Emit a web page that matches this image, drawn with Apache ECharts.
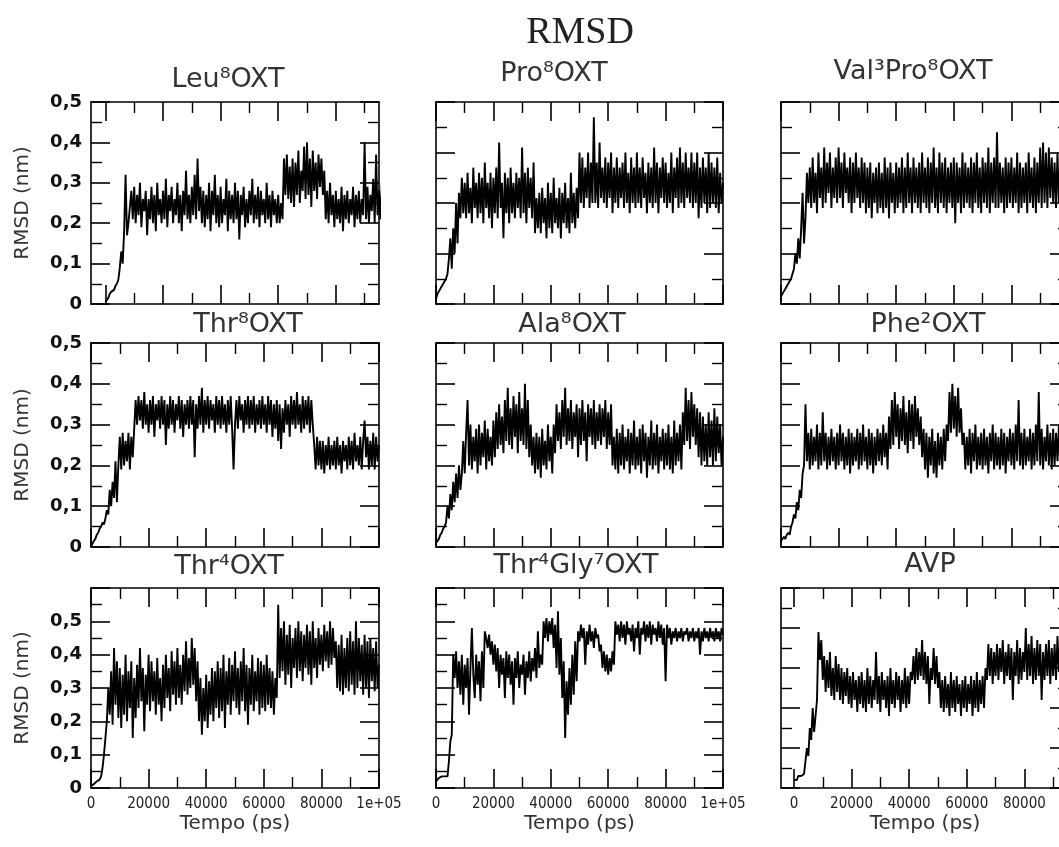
<!DOCTYPE html>
<html><head><meta charset="utf-8">
<script src="https://cdn.jsdelivr.net/npm/echarts@6/dist/echarts.min.js"></script>
<style>html,body{margin:0;padding:0;background:#fff}#c{width:1059px;height:847px}</style>
</head><body><div id="c"></div>
<script>
// sampling step of the trajectories (ps)
const DT = 500;

const mainTitle = 'RMSD';
const titles = ['Leu⁸OXT', 'Pro⁸OXT', 'Val³Pro⁸OXT', 'Thr⁸OXT', 'Ala⁸OXT', 'Phe²OXT', 'Thr⁴OXT', 'Thr⁴Gly⁷OXT', 'AVP'];
const yName = 'RMSD (nm)';
const xName = 'Tempo (ps)';
const xMajorTicks = [0, 20000, 40000, 60000, 80000, 100000];
const xMinorTicks = [10000, 30000, 50000, 70000, 90000];

const leu8 = [
0.005,0.008,0.015,0.025,0.03,0.03,0.035,0.045,0.05,0.06,
0.09,0.13,0.1,0.18,0.32,0.17,0.2,0.24,0.28,0.21,
0.29,0.2,0.27,0.22,0.3,0.19,0.26,0.23,0.28,0.17,
0.26,0.21,0.29,0.2,0.27,0.18,0.3,0.22,0.26,0.2,
0.28,0.21,0.31,0.19,0.27,0.23,0.29,0.2,0.26,0.22,
0.3,0.2,0.27,0.18,0.28,0.22,0.33,0.21,0.27,0.2,
0.29,0.22,0.32,0.21,0.36,0.23,0.29,0.2,0.28,0.19,
0.27,0.21,0.3,0.18,0.28,0.22,0.32,0.2,0.27,0.19,
0.29,0.2,0.26,0.22,0.31,0.18,0.28,0.21,0.27,0.2,
0.3,0.21,0.28,0.16,0.27,0.22,0.29,0.19,0.26,0.2,
0.28,0.22,0.31,0.2,0.27,0.21,0.29,0.19,0.28,0.22,
0.26,0.2,0.3,0.21,0.27,0.19,0.28,0.22,0.26,0.2,
0.27,0.2,0.25,0.21,0.36,0.27,0.37,0.26,0.34,0.25,
0.36,0.24,0.35,0.27,0.38,0.25,0.33,0.28,0.39,0.26,
0.4,0.27,0.36,0.24,0.38,0.28,0.35,0.26,0.37,0.29,
0.36,0.27,0.33,0.21,0.28,0.2,0.3,0.22,0.27,0.19,
0.28,0.21,0.26,0.2,0.29,0.18,0.27,0.21,0.28,0.2,
0.26,0.22,0.29,0.19,0.27,0.21,0.28,0.2,0.26,0.22,
0.4,0.21,0.29,0.2,0.27,0.23,0.31,0.2,0.37,0.22,
0.28,0.21,0.3,0.2,0.27,0.22,0.29,0.21,0.27,0.22,0.25];

const pro8 = [
0.01,0.02,0.022,0.03,0.035,0.04,0.045,0.05,0.06,0.09,
0.13,0.07,0.15,0.1,0.2,0.12,0.22,0.17,0.25,0.18,
0.24,0.17,0.26,0.18,0.23,0.16,0.27,0.19,0.24,0.17,
0.26,0.18,0.25,0.16,0.28,0.19,0.24,0.17,0.26,0.15,
0.25,0.18,0.27,0.17,0.32,0.19,0.24,0.13,0.26,0.18,
0.25,0.16,0.27,0.18,0.24,0.17,0.26,0.19,0.25,0.17,
0.31,0.18,0.26,0.16,0.27,0.19,0.25,0.17,0.28,0.14,
0.21,0.15,0.22,0.14,0.23,0.16,0.21,0.13,0.24,0.15,
0.22,0.14,0.25,0.16,0.21,0.15,0.23,0.13,0.22,0.16,
0.24,0.15,0.21,0.14,0.26,0.16,0.22,0.15,0.23,0.17,
0.3,0.2,0.29,0.19,0.27,0.21,0.3,0.19,0.28,0.2,
0.37,0.2,0.28,0.19,0.32,0.21,0.27,0.2,0.29,0.19,
0.28,0.21,0.3,0.18,0.27,0.2,0.29,0.19,0.27,0.21,
0.28,0.19,0.3,0.2,0.26,0.18,0.29,0.2,0.27,0.19,
0.3,0.2,0.27,0.19,0.29,0.21,0.26,0.18,0.28,0.2,
0.27,0.19,0.31,0.2,0.28,0.18,0.27,0.21,0.29,0.2,
0.28,0.19,0.26,0.2,0.3,0.18,0.27,0.21,0.29,0.19,
0.31,0.2,0.28,0.19,0.3,0.21,0.27,0.2,0.3,0.19,
0.28,0.2,0.3,0.17,0.27,0.19,0.29,0.2,0.27,0.18,
0.3,0.19,0.28,0.2,0.27,0.19,0.29,0.18,0.26,0.2,0.24];

const val3pro8 = [
0.015,0.02,0.025,0.03,0.035,0.04,0.045,0.05,0.06,0.07,
0.1,0.08,0.13,0.09,0.15,0.22,0.12,0.17,0.26,0.2,
0.27,0.19,0.29,0.2,0.26,0.18,0.3,0.21,0.27,0.19,
0.31,0.2,0.28,0.22,0.3,0.19,0.27,0.21,0.29,0.2,
0.31,0.21,0.28,0.19,0.3,0.22,0.27,0.2,0.29,0.18,
0.28,0.2,0.3,0.21,0.27,0.19,0.29,0.2,0.28,0.18,
0.27,0.19,0.28,0.17,0.26,0.2,0.27,0.18,0.28,0.19,
0.26,0.18,0.29,0.19,0.27,0.17,0.28,0.2,0.26,0.18,
0.28,0.19,0.27,0.2,0.29,0.18,0.27,0.19,0.3,0.2,
0.27,0.18,0.29,0.2,0.27,0.19,0.28,0.18,0.3,0.2,
0.27,0.19,0.29,0.18,0.28,0.2,0.31,0.19,0.27,0.18,
0.3,0.2,0.28,0.19,0.29,0.18,0.27,0.2,0.28,0.19,
0.29,0.16,0.28,0.2,0.27,0.18,0.3,0.19,0.28,0.2,
0.27,0.19,0.29,0.18,0.28,0.2,0.3,0.19,0.27,0.18,
0.29,0.2,0.28,0.19,0.31,0.18,0.28,0.2,0.29,0.19,
0.34,0.19,0.28,0.2,0.27,0.18,0.29,0.19,0.28,0.2,
0.29,0.19,0.27,0.2,0.3,0.18,0.28,0.19,0.27,0.2,
0.28,0.18,0.3,0.2,0.27,0.19,0.29,0.18,0.28,0.2,
0.31,0.19,0.32,0.2,0.3,0.19,0.31,0.21,0.29,0.2,
0.28,0.19,0.3,0.2,0.28,0.19,0.29,0.2,0.28,0.19,0.24];

const thr8 = [
0.0,0.008,0.015,0.02,0.03,0.035,0.045,0.05,0.06,0.055,
0.07,0.09,0.08,0.14,0.1,0.16,0.12,0.21,0.11,0.2,
0.27,0.19,0.28,0.2,0.26,0.21,0.28,0.19,0.27,0.22,
0.29,0.36,0.3,0.37,0.31,0.36,0.29,0.38,0.3,0.35,
0.28,0.36,0.3,0.37,0.27,0.35,0.31,0.36,0.29,0.37,
0.3,0.36,0.25,0.35,0.29,0.37,0.3,0.36,0.28,0.35,
0.31,0.37,0.29,0.36,0.27,0.35,0.3,0.36,0.29,0.37,
0.3,0.36,0.22,0.35,0.29,0.37,0.3,0.39,0.28,0.36,
0.3,0.37,0.29,0.36,0.31,0.35,0.28,0.37,0.3,0.36,
0.29,0.37,0.3,0.35,0.28,0.36,0.3,0.37,0.29,0.19,
0.3,0.36,0.29,0.37,0.31,0.35,0.28,0.36,0.3,0.37,
0.29,0.36,0.3,0.37,0.28,0.35,0.3,0.36,0.29,0.37,
0.3,0.35,0.28,0.37,0.3,0.36,0.27,0.35,0.29,0.36,
0.26,0.35,0.24,0.34,0.28,0.36,0.3,0.35,0.27,0.37,
0.3,0.36,0.29,0.38,0.3,0.35,0.28,0.37,0.29,0.36,
0.3,0.37,0.28,0.36,0.3,0.25,0.19,0.27,0.2,0.26,
0.19,0.26,0.18,0.25,0.2,0.27,0.19,0.25,0.2,0.26,
0.19,0.27,0.2,0.25,0.18,0.26,0.21,0.25,0.19,0.27,
0.2,0.26,0.19,0.28,0.21,0.25,0.2,0.27,0.19,0.26,
0.31,0.22,0.27,0.19,0.26,0.2,0.28,0.19,0.27,0.21,0.25];

const ala8 = [
0.01,0.015,0.02,0.03,0.035,0.045,0.05,0.06,0.1,0.07,
0.13,0.09,0.16,0.11,0.18,0.12,0.2,0.14,0.18,0.26,
0.18,0.28,0.36,0.2,0.3,0.19,0.27,0.21,0.29,0.18,
0.3,0.2,0.28,0.22,0.31,0.19,0.29,0.21,0.27,0.2,
0.31,0.22,0.33,0.24,0.35,0.25,0.32,0.23,0.36,0.26,
0.39,0.25,0.34,0.24,0.37,0.27,0.35,0.23,0.38,0.26,
0.34,0.25,0.4,0.24,0.36,0.22,0.3,0.2,0.27,0.18,
0.28,0.19,0.27,0.17,0.29,0.2,0.26,0.19,0.3,0.21,
0.27,0.18,0.3,0.23,0.35,0.26,0.33,0.24,0.36,0.27,
0.39,0.25,0.34,0.26,0.36,0.24,0.33,0.27,0.35,0.22,
0.34,0.25,0.36,0.26,0.33,0.21,0.35,0.27,0.34,0.25,
0.36,0.24,0.33,0.26,0.35,0.25,0.34,0.27,0.36,0.24,
0.33,0.25,0.35,0.2,0.27,0.19,0.29,0.18,0.28,0.2,
0.3,0.19,0.27,0.21,0.29,0.18,0.28,0.2,0.31,0.19,
0.27,0.2,0.29,0.18,0.3,0.21,0.28,0.17,0.27,0.2,
0.31,0.19,0.28,0.2,0.3,0.18,0.27,0.21,0.29,0.19,
0.28,0.2,0.3,0.19,0.27,0.18,0.31,0.2,0.28,0.21,
0.3,0.19,0.33,0.25,0.39,0.26,0.36,0.24,0.38,0.27,
0.35,0.25,0.34,0.22,0.33,0.2,0.32,0.21,0.3,0.2,
0.33,0.22,0.31,0.2,0.34,0.21,0.32,0.23,0.3,0.2,0.27];

const phe2 = [
0.015,0.02,0.025,0.02,0.03,0.035,0.03,0.05,0.06,0.08,
0.07,0.11,0.09,0.14,0.12,0.18,0.2,0.35,0.21,0.28,
0.19,0.29,0.2,0.27,0.21,0.3,0.19,0.28,0.2,0.33,
0.21,0.28,0.19,0.27,0.2,0.29,0.21,0.27,0.19,0.28,
0.2,0.3,0.21,0.28,0.19,0.27,0.2,0.29,0.18,0.28,
0.2,0.27,0.21,0.29,0.19,0.28,0.2,0.3,0.21,0.27,
0.19,0.29,0.2,0.28,0.18,0.27,0.2,0.29,0.21,0.28,
0.2,0.3,0.22,0.28,0.19,0.32,0.24,0.36,0.25,0.38,
0.27,0.35,0.24,0.34,0.26,0.37,0.25,0.33,0.23,0.36,
0.26,0.35,0.24,0.37,0.27,0.34,0.25,0.32,0.22,0.29,
0.19,0.28,0.17,0.27,0.2,0.29,0.18,0.26,0.17,0.28,
0.2,0.27,0.19,0.29,0.21,0.3,0.26,0.38,0.28,0.4,
0.29,0.37,0.27,0.39,0.28,0.34,0.25,0.28,0.19,0.27,
0.2,0.29,0.18,0.28,0.21,0.3,0.19,0.27,0.2,0.28,
0.19,0.29,0.2,0.27,0.18,0.28,0.21,0.3,0.19,0.28,
0.2,0.27,0.19,0.29,0.2,0.28,0.18,0.27,0.21,0.29,
0.2,0.28,0.19,0.3,0.21,0.36,0.2,0.28,0.19,0.29,
0.2,0.27,0.21,0.29,0.19,0.28,0.2,0.3,0.21,0.38,
0.2,0.29,0.19,0.27,0.21,0.3,0.2,0.28,0.19,0.29,
0.2,0.28,0.21,0.3,0.19,0.27,0.2,0.29,0.21,0.28,0.25];

const thr4 = [
0.005,0.01,0.012,0.015,0.02,0.022,0.025,0.035,0.06,0.1,
0.15,0.2,0.3,0.22,0.35,0.19,0.42,0.25,0.38,0.21,
0.36,0.18,0.34,0.22,0.4,0.2,0.35,0.24,0.38,0.15,
0.33,0.21,0.37,0.24,0.42,0.26,0.36,0.17,0.34,0.25,
0.4,0.23,0.38,0.26,0.35,0.22,0.39,0.25,0.33,0.2,
0.37,0.24,0.4,0.27,0.36,0.23,0.41,0.28,0.38,0.25,
0.42,0.27,0.37,0.25,0.4,0.29,0.44,0.28,0.39,0.3,
0.45,0.31,0.42,0.26,0.38,0.2,0.33,0.16,0.3,0.2,
0.34,0.18,0.32,0.22,0.36,0.2,0.35,0.24,0.38,0.21,
0.36,0.23,0.4,0.18,0.35,0.25,0.39,0.22,0.37,0.26,
0.41,0.24,0.36,0.22,0.38,0.26,0.42,0.23,0.37,0.19,
0.36,0.25,0.4,0.23,0.35,0.26,0.39,0.22,0.38,0.24,
0.37,0.23,0.4,0.25,0.36,0.24,0.35,0.22,0.33,0.27,
0.55,0.33,0.48,0.35,0.5,0.31,0.46,0.34,0.49,0.3,
0.45,0.36,0.48,0.33,0.5,0.35,0.47,0.32,0.46,0.36,
0.49,0.34,0.47,0.31,0.5,0.36,0.45,0.33,0.48,0.37,
0.46,0.35,0.49,0.38,0.47,0.36,0.5,0.37,0.48,0.39,
0.44,0.3,0.43,0.29,0.46,0.28,0.42,0.3,0.45,0.29,
0.47,0.31,0.44,0.28,0.5,0.3,0.45,0.32,0.43,0.28,
0.46,0.3,0.44,0.27,0.45,0.32,0.42,0.29,0.44,0.3,0.37];

const thr4gly7 = [
0.02,0.025,0.03,0.035,0.035,0.03,0.035,0.04,0.035,0.08,
0.14,0.16,0.4,0.33,0.41,0.3,0.38,0.28,0.4,0.25,
0.37,0.3,0.39,0.22,0.36,0.48,0.34,0.27,0.4,0.31,
0.38,0.26,0.41,0.3,0.47,0.45,0.42,0.46,0.4,0.44,
0.37,0.43,0.35,0.42,0.3,0.4,0.34,0.39,0.27,0.41,
0.33,0.4,0.31,0.38,0.25,0.39,0.33,0.41,0.3,0.37,
0.34,0.4,0.28,0.38,0.33,0.41,0.32,0.39,0.35,0.42,
0.33,0.47,0.36,0.4,0.37,0.5,0.45,0.51,0.44,0.5,
0.46,0.51,0.42,0.49,0.36,0.53,0.34,0.45,0.27,0.38,
0.15,0.32,0.22,0.36,0.25,0.4,0.28,0.44,0.32,0.47,
0.44,0.49,0.45,0.48,0.37,0.47,0.43,0.49,0.44,0.47,
0.42,0.48,0.45,0.46,0.41,0.43,0.36,0.41,0.35,0.4,
0.34,0.39,0.35,0.41,0.37,0.5,0.46,0.49,0.44,0.5,
0.45,0.49,0.43,0.5,0.46,0.48,0.44,0.49,0.41,0.48,
0.45,0.5,0.4,0.48,0.46,0.5,0.44,0.49,0.45,0.5,
0.43,0.49,0.46,0.48,0.44,0.5,0.45,0.49,0.43,0.48,
0.32,0.49,0.45,0.48,0.43,0.47,0.45,0.48,0.44,0.47,
0.45,0.48,0.44,0.47,0.46,0.48,0.44,0.47,0.45,0.48,
0.44,0.47,0.45,0.48,0.4,0.47,0.44,0.48,0.45,0.47,
0.44,0.48,0.45,0.47,0.44,0.48,0.45,0.47,0.44,0.48,0.46];

const avp = [
0.02,0.025,0.02,0.03,0.025,0.03,0.028,0.035,0.03,0.1,
0.08,0.15,0.12,0.2,0.14,0.18,0.22,0.39,0.32,0.37,
0.27,0.33,0.24,0.32,0.25,0.34,0.23,0.3,0.22,0.33,
0.24,0.31,0.22,0.3,0.21,0.29,0.23,0.3,0.21,0.28,
0.2,0.29,0.22,0.27,0.19,0.28,0.21,0.29,0.2,0.27,
0.19,0.3,0.21,0.28,0.2,0.27,0.22,0.34,0.21,0.28,
0.19,0.29,0.22,0.27,0.2,0.28,0.18,0.3,0.21,0.27,
0.2,0.29,0.22,0.28,0.19,0.27,0.21,0.3,0.2,0.28,
0.21,0.29,0.27,0.33,0.26,0.35,0.27,0.34,0.28,0.37,
0.27,0.34,0.26,0.33,0.21,0.3,0.27,0.35,0.26,0.33,
0.25,0.29,0.2,0.27,0.19,0.28,0.2,0.26,0.18,0.29,
0.2,0.27,0.19,0.28,0.21,0.26,0.18,0.27,0.2,0.28,
0.19,0.26,0.21,0.28,0.18,0.27,0.2,0.29,0.19,0.27,
0.21,0.28,0.2,0.3,0.27,0.36,0.28,0.35,0.26,0.34,
0.28,0.36,0.27,0.35,0.29,0.37,0.26,0.34,0.28,0.36,
0.27,0.35,0.22,0.34,0.28,0.37,0.26,0.35,0.27,0.34,
0.29,0.4,0.27,0.36,0.28,0.38,0.26,0.35,0.27,0.37,
0.28,0.36,0.22,0.34,0.27,0.36,0.28,0.37,0.26,0.35,
0.28,0.36,0.27,0.38,0.29,0.35,0.27,0.37,0.28,0.36,
0.27,0.35,0.28,0.37,0.26,0.36,0.28,0.35,0.27,0.36,0.31];

const seriesData = [leu8, pro8, val3pro8, thr8, ala8, phe2, thr4, thr4gly7, avp];

// layout of the 3x3 panels
const colLeft = [91, 436, 781];
const colWidth = [288, 287, 288];
const rowTop = [102, 343, 588];
const rowHeight = [202, 204, 200];
const panelX = [[-5000, 95000], [0, 100000], [0, 100000], [0, 100000], [0, 100000], [0, 100000], [0, 100000], [0, 100000], [-4500, 95500]];
const panelYMax = [0.5, 0.4, 0.4, 0.5, 0.5, 0.5, 0.6, 0.6, 0.5];
const titlePos = [[228, 80], [554, 74], [913, 72], [248, 325], [572, 325], [928, 325], [229, 567], [576, 566], [930, 565]];

const FONT = "'DejaVu Sans', sans-serif";
const grids = [], xAxes = [], yAxes = [], series = [], graphics = [];

graphics.push({type: 'text', x: 580, y: 33, style: {text: mainTitle, fontSize: 38, fontFamily: "'Liberation Serif', serif", fill: '#222', align: 'center', verticalAlign: 'middle'}});

for (let p = 0; p < 9; p++) {
  const r = Math.floor(p / 3), c = p % 3;
  grids.push({left: colLeft[c], top: rowTop[r], width: colWidth[c], height: rowHeight[r], containLabel: false, outerBoundsMode: 'none'});
  const [xmin, xmax] = panelX[p];
  const majors = xMajorTicks.filter(v => v >= xmin && v <= xmax);
  const minors = xMinorTicks.filter(v => v >= xmin && v <= xmax);
  const bottomRow = r === 2, leftCol = c === 0;
  const line = {show: true, onZero: false, lineStyle: {color: '#000', width: 1.6}};
  const xBase = xAxes.length;
  ['bottom', 'top'].forEach(pos => {
    xAxes.push({
      type: 'value', gridIndex: p, position: pos, min: xmin, max: xmax,
      axisLine: line, splitLine: {show: false},
      axisTick: {show: true, inside: true, length: 19, customValues: majors, lineStyle: {color: '#000', width: 1.6}},
      axisLabel: {show: bottomRow && pos === 'bottom', customValues: majors, margin: 9,
        formatter: v => v >= 100000 ? '1e+05' : String(v),
        fontFamily: "'Liberation Sans Narrow', 'DejaVu Sans Condensed', sans-serif", fontSize: 15, color: '#222'},
      name: bottomRow && pos === 'bottom' ? xName : '', nameLocation: 'middle', nameGap: 26,
      nameTextStyle: {fontFamily: FONT, fontSize: 20, color: '#333'}
    });
    xAxes.push({
      type: 'value', gridIndex: p, position: pos, min: xmin, max: xmax,
      axisLine: {show: false, onZero: false}, splitLine: {show: false}, axisLabel: {show: false},
      axisTick: {show: true, inside: true, length: 11, customValues: minors, lineStyle: {color: '#000', width: 1.4}}
    });
  });
  const yBase = yAxes.length;
  ['left', 'right'].forEach(pos => {
    yAxes.push({
      type: 'value', gridIndex: p, position: pos, min: 0, max: panelYMax[p], interval: 0.1,
      axisLine: line, splitLine: {show: false},
      axisTick: {show: true, inside: true, length: 19, lineStyle: {color: '#000', width: 1.6}},
      minorTick: {show: true, splitNumber: 2, length: 11, lineStyle: {color: '#000', width: 1.4}},
      axisLabel: {show: leftCol && pos === 'left', margin: 9,
        formatter: v => v > 0.55 ? '' : (v === 0 ? '0' : v.toFixed(1).replace('.', ',')),
        fontFamily: FONT, fontWeight: 'bold', fontSize: 18, color: '#111'},
      name: leftCol && pos === 'left' ? yName : '', nameLocation: 'middle', nameGap: 58, nameRotate: 90,
      nameTextStyle: {fontFamily: FONT, fontSize: 20, color: '#333'}
    });
  });
  series.push({
    type: 'line', xAxisIndex: xBase, yAxisIndex: yBase, showSymbol: false, symbol: 'none',
    clip: true, animation: false, silent: true,
    lineStyle: {color: '#000', width: 1.9},
    data: seriesData[p].map((v, i) => [i * DT, v])
  });
  graphics.push({type: 'text', x: titlePos[p][0], y: titlePos[p][1],
    style: {text: titles[p], fontSize: 27, fontFamily: FONT, fill: '#333', align: 'center', verticalAlign: 'middle'}});
}

const chart = echarts.init(document.getElementById('c'), null, {renderer: 'canvas'});
chart.setOption({
  animation: false,
  backgroundColor: '#fff',
  grid: grids, xAxis: xAxes, yAxis: yAxes, series: series, graphic: graphics
});
</script></body></html>
